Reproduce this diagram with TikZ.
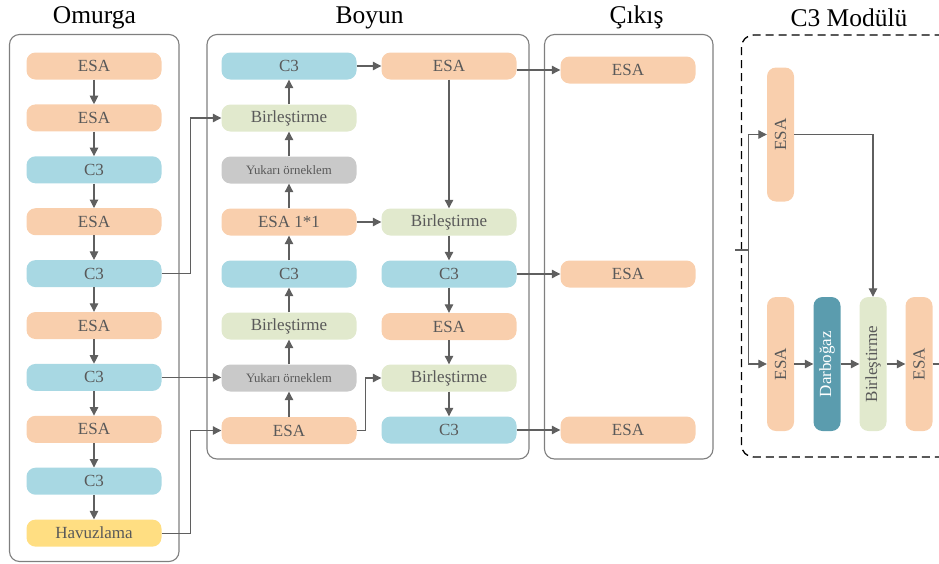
\documentclass[tikz,border=0pt]{standalone}
\usepackage{xcolor}
\usepackage{fontspec}
\setmainfont{Liberation Serif}
\usepackage{tikz}
\usetikzlibrary{calc}
\usetikzlibrary{arrows.meta}
\usetikzlibrary{positioning}
\definecolor{esacol}{HTML}{F9CFAD}
\definecolor{cthreecol}{HTML}{A8D8E3}
\definecolor{birlcol}{HTML}{E1E9CD}
\definecolor{yukcol}{HTML}{C9C9C9}
\definecolor{havcol}{HTML}{FFDE82}
\definecolor{darbcol}{HTML}{5B9CAE}
\definecolor{txtcol}{HTML}{595959}
\definecolor{arrcol}{HTML}{5F5F5F}
\definecolor{boxcol}{HTML}{7F7F7F}
\tikzset{>={Triangle[length=8.5pt,width=8.5pt]}}
\tikzset{blk/.style = {rectangle, rounded corners=9pt, inner sep=0pt, minimum width=135pt, minimum height=27pt, text=txtcol, font=\fontsize{17}{19}\selectfont}}
\tikzset{esa/.style = {blk, fill=esacol}}
\tikzset{cthree/.style = {blk, fill=cthreecol}}
\tikzset{birl/.style = {blk, fill=birlcol}}
\tikzset{yuk/.style = {blk, fill=yukcol, font=\fontsize{12.8}{14}\selectfont}}
\tikzset{havuz/.style = {blk, fill=havcol}}
\tikzset{vblk/.style = {rotate=90, minimum width=134pt, minimum height=27pt}}
\tikzset{grp/.style = {draw=boxcol, line width=1.1pt, rounded corners=10pt}}
\tikzset{ttl/.style = {font=\fontsize{25.5}{28}\selectfont, text=black}}
\tikzset{link/.style = {->, draw=arrcol, line width=1.1pt}}

\begin{document}
\begin{tikzpicture}[x=1pt, y=-1pt]
\clip (0,0) rectangle (939,563);
% groups
\draw [grp] (9.5,34.5) rectangle (179,561.5);
\draw [grp] (207,34.5) rectangle (529,459);
\draw [grp] (544.5,34.5) rectangle (713,459);
\draw [grp, draw=black, line width=1.3pt, dash pattern=on 8pt off 5pt, rounded corners=12pt] (741.5,35) rectangle (980,457);
\node [ttl] (tOm) at (94.5,17.5) {Omurga};
\node [ttl] (tBo) at (369.5,17.5) {Boyun};
\node [ttl] (tCi) at (636.5,17.5) {Çıkış};
\node [ttl] (tMo) at (849,17.5) {C3 Modülü};
% Omurga
\node [esa] (o1) at (94,66) {ESA};
\node [esa] (o2) at (94,117.9) {ESA};
\node [cthree] (o3) at (94,169.8) {C3};
\node [esa] (o4) at (94,221.7) {ESA};
\node [cthree] (o5) at (94,273.6) {C3};
\node [esa] (o6) at (94,325.5) {ESA};
\node [cthree] (o7) at (94,377.4) {C3};
\node [esa] (o8) at (94,429.3) {ESA};
\node [cthree] (o9) at (94,481.2) {C3};
\node [havuz] (o10) at (94,533.1) {Havuzlama};
\foreach \a/\b in {o1/o2, o2/o3, o3/o4, o4/o5, o5/o6, o6/o7, o7/o8, o8/o9, o9/o10}
  \draw [link] (\a) -- (\b);
% Boyun
\node [cthree] (b1) at (289,66) {C3};
\node [birl] (b2) at (289,118) {Birleştirme};
\node [yuk] (b3) at (289,170) {Yukarı örneklem};
\node [esa] (b4) at (289,222) {ESA 1*1};
\node [cthree] (b5) at (289,274) {C3};
\node [birl] (b6) at (289,326) {Birleştirme};
\node [yuk] (b7) at (289,378) {Yukarı örneklem};
\node [esa] (b8) at (289,430.5) {ESA};
\node [esa] (r1) at (449,66) {ESA};
\node [birl] (r2) at (449,222) {Birleştirme};
\node [cthree] (r3) at (449,274) {C3};
\node [esa] (r4) at (449,326.5) {ESA};
\node [birl] (r5) at (449,378) {Birleştirme};
\node [cthree] (r6) at (449,430) {C3};
\foreach \a/\b in {b8/b7, b7/b6, b6/b5, b5/b4, b4/b3, b3/b2, b2/b1, r1/r2, r2/r3, r3/r4, r4/r5, r5/r6}
  \draw [link] (\a) -- (\b);
\draw [link] (b1) -- (r1);
\draw [link] (b4) -- (r2);
\draw [link] (b8.east) -- ++(9,0) |- (r5.west);
% Cikis
\node [esa] (c1) at (628,70) {ESA};
\node [esa] (c2) at (628,274) {ESA};
\node [esa] (c3) at (628,430) {ESA};
\draw [link] (r1.east |- c1) -- (c1);
\draw [link] (r3) -- (c2);
\draw [link] (r6) -- (c3);
% Omurga -> Boyun
\draw [link] (o5.east) -- ++(29,0) |- (b2.west);
\draw [link] (o7.east) -- (o7.east -| b7.west);
\draw [link] (o10.east) -- ++(29,0) |- (b8.west);
% C3 Modulu
\node [esa, vblk] (m1) at (780.5,134.5) {ESA};
\node [esa, vblk] (m2) at (780.5,364) {ESA};
\node [blk, vblk, fill=darbcol, text=white] (m3) at (827,364) {Darboğaz};
\node [birl, vblk] (m4) at (873,364) {Birleştirme};
\node [esa, vblk] (m5) at (919,364) {ESA};
\coordinate (min) at (735,250);
\coordinate (mout) at (945,364);
\draw [draw=arrcol, line width=1.1pt] (min) -- (748.5,250);
\draw [link] (748.5,250) |- (m1.north);
\draw [link] (748.5,250) |- (m2.north);
\draw [link] (m1.south) -| (m4.east);
\foreach \a/\b in {m2/m3, m3/m4, m4/m5}
  \draw [link] (\a) -- (\b);
\draw [draw=arrcol, line width=1.1pt] (m5) -- (mout);
\end{tikzpicture}
\end{document}
